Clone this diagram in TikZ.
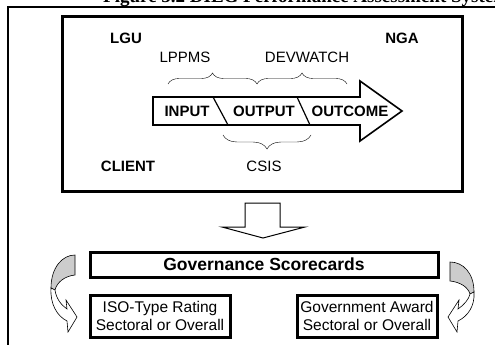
\documentclass[tikz,border=0pt]{standalone}
\usepackage{fontspec}
\setmainfont{Liberation Sans}
\newfontfamily\titlefont{Liberation Serif}
\usetikzlibrary{decorations.pathreplacing,calc}

\begin{document}
\begin{tikzpicture}[x=1pt,y=-1pt,
  txt/.style={font=\fontsize{15}{17}\selectfont,inner sep=0pt},
  btxt/.style={font=\fontsize{15}{17}\selectfont\bfseries,inner sep=0pt},
  thickbox/.style={draw,line width=3pt},
  curly/.style={decorate,decoration={brace,amplitude=#1}},
  backband/.style={draw,fill=gray!40,line width=0.6pt},
  frontband/.style={draw,fill=white,line width=0.6pt}]
  \useasboundingbox (0,0) rectangle (495,345);
  \clip (0,0) rectangle (495,345);

  % Title, cut off at the top edge
  \node[anchor=base west,inner sep=0pt,font=\titlefont\fontsize{19}{21}\selectfont\bfseries] (title) at (103,3) {Figure 5.2 DILG Performance Assessment System};

  % Outer frame
  \draw[line width=1.2pt] (8,350) -- (8,7) -- (500,7);

  % Inner box with the actors
  \draw[thickbox] (62,17) rectangle (462,191);
  \node[btxt] (lgu) at (126,38) {LGU};
  \node[btxt] (nga) at (402,38) {NGA};
  \node[btxt] (client) at (128,166) {CLIENT};

  % Input / output / outcome arrow
  \draw[line width=1.6pt] (153,97) -- (360,97) -- (360,81) -- (402,111) -- (360,141) -- (360,125) -- (153,125) -- cycle;
  \draw[line width=1.2pt] (213,97) -- (228,125);
  \draw[line width=1.2pt] (297,97) -- (310,125);
  \node[btxt] (input) at (187,111) {INPUT};
  \node[btxt] (output) at (264,111) {OUTPUT};
  \node[btxt] (outcome) at (350,111) {OUTCOME};

  % Braces with the systems
  \coordinate (b1s) at (168,84);
  \coordinate (b1e) at (257,84);
  \coordinate (b2e) at (347,84);
  \coordinate (b3s) at (311,135);
  \coordinate (b3e) at (223,135);
  \draw[curly=11pt] (b1s) -- (b1e);
  \draw[curly=11pt] (b1e) -- (b2e);
  \draw[curly=14pt] (b3s) -- (b3e);
  \node[txt] (lppms) at (185,57) {LPPMS};
  \node[txt] (devwatch) at (307,57) {DEVWATCH};
  \node[txt] (csis) at (264,166) {CSIS};

  % Block arrow down
  \draw[line width=1pt] (245,203) -- (280,203) -- (280,227) -- (305,227) -- (263,238) -- (222,227) -- (245,227) -- cycle;

  % Scorecards
  \node[thickbox,minimum width=348pt,minimum height=25pt,inner sep=0pt,
        font=\fontsize{17.5}{20}\selectfont\bfseries] (score) at (264,264.5) {Governance Scorecards};
  \node[thickbox,minimum width=140pt,minimum height=42pt,inner sep=0pt,align=center,
        font=\fontsize{15.5}{18.5}\selectfont] (iso) at (160,316) {ISO-Type Rating\\Sectoral or Overall};
  \node[thickbox,minimum width=140pt,minimum height=42pt,inner sep=0pt,align=center,
        font=\fontsize{15.5}{18.5}\selectfont] (award) at (367,316) {Government Award\\Sectoral or Overall};

  % Curved arrows at the sides
  \draw[backband] (75,255) -- (75,275) .. controls (65,276) and (57,282) .. (55,290) -- (51,288) .. controls (51,268) and (62,255) .. (75,255) -- cycle;
  \draw[frontband] (51,288) .. controls (50,304) and (57,316) .. (67,321) -- (68,332) -- (77,317) -- (66,300) -- (67,309) .. controls (61,305) and (56,298) .. (55,290) -- cycle;
  \draw[backband] (450,262) -- (450,281) .. controls (460,282) and (468,287) .. (470,294) -- (474,292) .. controls (474,273) and (463,262) .. (450,262) -- cycle;
  \draw[frontband] (474,292) .. controls (475,306) and (468,316) .. (458,321) -- (457,332) -- (448,317) -- (459,300) -- (458,309) .. controls (464,305) and (469,299) .. (470,294) -- cycle;
\end{tikzpicture}
\end{document}
